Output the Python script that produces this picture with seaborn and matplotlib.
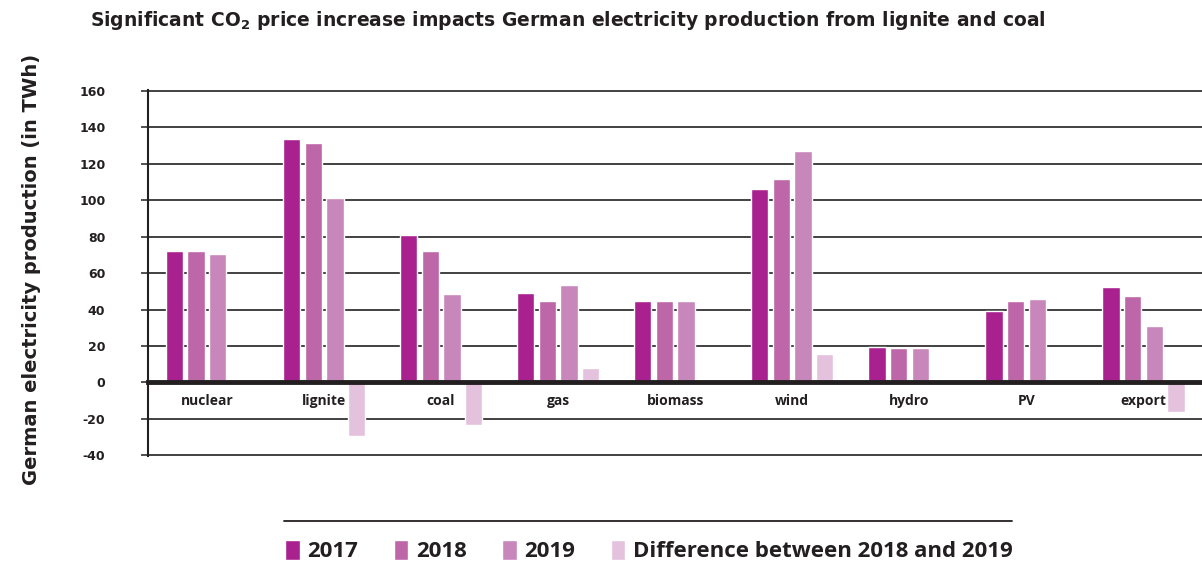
import matplotlib
matplotlib.use("Agg")
import matplotlib.pyplot as plt
import seaborn as sns
import pandas as pd
import numpy as np
from matplotlib.lines import Line2D
from matplotlib.ticker import FixedLocator

categories = ["nuclear", "lignite", "coal", "gas", "biomass", "wind", "hydro", "PV", "export"]
series_names = ["2017", "2018", "2019", "Difference between 2018 and 2019"]
v2017 = [72, 133.5, 81, 49, 44.5, 106, 19.5, 39.5, 52.5]
v2018 = [72, 131.5, 72, 44.5, 44.5, 111.5, 19, 45, 47.5]
v2019 = [70.5, 101.5, 48.5, 53.5, 44.5, 127, 19, 46, 31]
vdiff = [0, -29.5, -23.5, 8, 0, 15.5, 0, 0, -16]
colors = ["#A8218E", "#BE67A8", "#C887BB", "#E4C2DD"]
yticks = [-40, -20, 0, 20, 40, 60, 80, 100, 120, 140, 160]

rows = []
for name, vals in zip(series_names, [v2017, v2018, v2019, vdiff]):
    for c, v in zip(categories, vals):
        rows.append({"category": c, "series": name, "value": v})
df = pd.DataFrame(rows)

sns.set_style("white")
plt.rcParams["font.family"] = ["Open Sans", "DejaVu Sans"]
plt.rcParams["font.weight"] = "bold"

fig = plt.figure(figsize=(12.02, 5.8), dpi=100)
ax = fig.add_axes([0.1235, 0.213, 0.8765, 0.632])

sns.barplot(data=df, x="category", y="value", hue="series", order=categories,
            hue_order=series_names, palette=colors, width=0.74, gap=0.2,
            saturation=1, ax=ax, legend=True)
handles, labels = ax.get_legend_handles_labels()
ax.get_legend().remove()

ax.set_ylim(-40.6, 160.6)
ax.set_xlim(-0.5, len(categories) - 0.5)
ax.yaxis.set_major_locator(FixedLocator(yticks))
ax.set_yticklabels([str(t) for t in yticks], fontsize=9, fontweight="bold",
                   color="#231F20", family="DejaVu Sans")
ax.tick_params(axis="y", length=5, width=1.2, color="#333333", pad=26, left=True)
ax.grid(axis="y", color="#333333", linewidth=1.3)
ax.set_axisbelow(True)

for s in ["top", "right"]:
    ax.spines[s].set_visible(False)
ax.spines["left"].set_color("#231F20")
ax.spines["left"].set_linewidth(1.5)
ax.spines["bottom"].set_position(("data", 0))
ax.spines["bottom"].set_color("#231F20")
ax.spines["bottom"].set_linewidth(3.5)
ax.spines["bottom"].set_zorder(5)

ax.set_xticks(range(len(categories)))
ax.set_xticklabels(categories, fontsize=10, fontweight="bold", color="#231F20")
ax.tick_params(axis="x", which="major", length=0, pad=8)
ax.set_xticks(np.arange(0.5, len(categories) - 0.5, 1), minor=True)
ax.tick_params(axis="x", which="minor", length=5, width=1.2, color="#333333", direction="out")
ax.set_xlabel("")
ax.set_ylabel("German electricity production (in TWh)", fontsize=14,
              fontweight="bold", color="#231F20", family="DejaVu Sans")
ax.yaxis.set_label_coords(-0.102, 0.51)

fig.text(0.075, 0.965, r"Significant CO$_{\mathbf{2}}$ price increase impacts German electricity production from lignite and coal",
         fontsize=13.5, fontweight="bold", color="#231F20", va="center", ha="left",
         family="DejaVu Sans")

fig.add_artist(Line2D([0.236, 0.842], [0.102, 0.102], color="#231F20", linewidth=1.3,
                      transform=fig.transFigure))

leg = fig.legend(handles, labels, loc="center", bbox_to_anchor=(0.54, 0.05), ncol=4,
                 frameon=False, fontsize=16, handlelength=0.65, handleheight=1.0,
                 handletextpad=0.35, columnspacing=1.6, borderaxespad=0)
for t in leg.get_texts():
    t.set_fontweight("bold")
    t.set_color("#231F20")

fig.savefig("out.png", dpi=100)
